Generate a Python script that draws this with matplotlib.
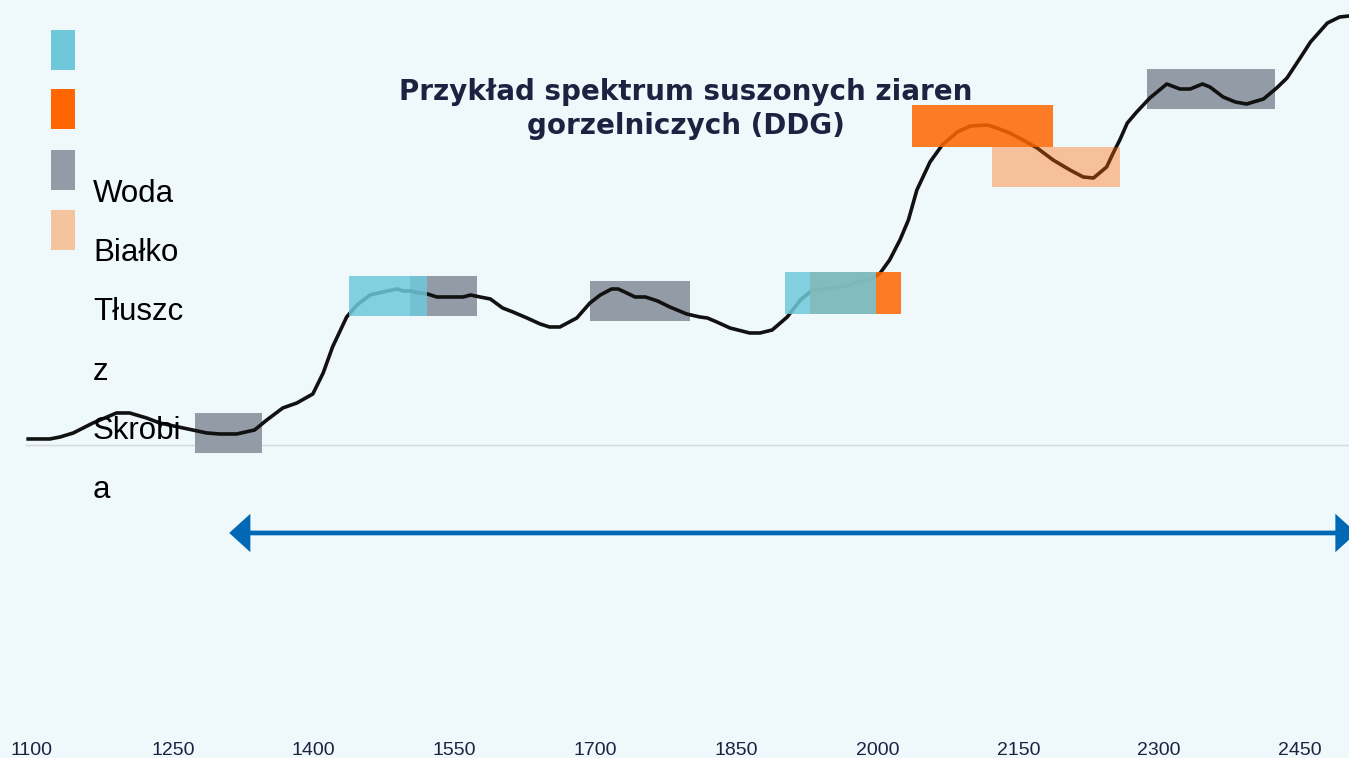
import numpy as np
import matplotlib.pyplot as plt
from matplotlib.patches import Rectangle, FancyArrowPatch

# Widmo DDG (liczba falowa [nm], absorbancja [j.u.])
liczba_falowa = [1096, 1119, 1130, 1144, 1165, 1190, 1204, 1222, 1236, 1261,
                 1286, 1300, 1318, 1337, 1350, 1367, 1382, 1399, 1410, 1420,
                 1435, 1446, 1460, 1478, 1489, 1495, 1502, 1513, 1521, 1531,
                 1559, 1567, 1577, 1588, 1601, 1612, 1627, 1641, 1651, 1662,
                 1680, 1694, 1705, 1717, 1724, 1731, 1742, 1753, 1766, 1779,
                 1797, 1811, 1819, 1829, 1843, 1864, 1875, 1888, 1904, 1918,
                 1931, 1946, 1957, 1968, 1978, 1992, 2003, 2013, 2024, 2033,
                 2042, 2056, 2069, 2085, 2099, 2117, 2127, 2141, 2155, 2170,
                 2187, 2205, 2219, 2230, 2244, 2251, 2258, 2266, 2276, 2290,
                 2308, 2322, 2333, 2346, 2354, 2368, 2381, 2393, 2411, 2425,
                 2436, 2450, 2461, 2479, 2492, 2502]
absorbancja = [0.06, 0.06, 0.08, 0.12, 0.22, 0.32, 0.32, 0.27, 0.22, 0.17,
               0.12, 0.11, 0.11, 0.15, 0.25, 0.37, 0.42, 0.51, 0.72, 0.98,
               1.28, 1.40, 1.50, 1.54, 1.56, 1.54, 1.54, 1.52, 1.51, 1.48,
               1.48, 1.50, 1.48, 1.46, 1.37, 1.33, 1.27, 1.21, 1.18, 1.18,
               1.27, 1.42, 1.50, 1.56, 1.56, 1.53, 1.48, 1.48, 1.44, 1.38,
               1.31, 1.28, 1.27, 1.23, 1.17, 1.12, 1.12, 1.15, 1.28, 1.45,
               1.55, 1.56, 1.58, 1.59, 1.63, 1.65, 1.72, 1.85, 2.05, 2.25,
               2.55, 2.83, 3.00, 3.13, 3.19, 3.20, 3.17, 3.12, 3.05, 2.97,
               2.85, 2.75, 2.68, 2.67, 2.78, 2.92, 3.05, 3.22, 3.33, 3.47,
               3.61, 3.56, 3.56, 3.61, 3.58, 3.48, 3.43, 3.41, 3.46, 3.57,
               3.67, 3.87, 4.03, 4.22, 4.28, 4.29]

# Pasma absorpcji skladnikow
pasmo_skladnik = ['Tłuszcz', 'Woda', 'Tłuszcz', 'Tłuszcz', 'Woda',
                  'Białko', 'Białko', 'Skrobia', 'Tłuszcz']
pasmo_od = [1274, 1438, 1502, 1694, 1902, 1928, 2037, 2122, 2287]
pasmo_do = [1345, 1521, 1574, 1801, 1999, 2025, 2187, 2258, 2423]
pasmo_dol = [-0.08, 1.29, 1.29, 1.24, 1.31, 1.31, 2.98, 2.58, 3.36]
pasmo_gora = [0.32, 1.69, 1.69, 1.64, 1.73, 1.73, 3.40, 2.98, 3.76]

legenda = ['Woda', 'Białko', 'Tłuszcz', 'Skrobia']
legenda_linie = ['Woda', 'Białko', 'Tłuszc', 'z', 'Skrobi', 'a']
ticki = [1100, 1250, 1400, 1550, 1700, 1850, 2000, 2150, 2300, 2450]
zakres = [1310, 2510]  # strzalka

# styl: kolor, alpha, zorder
styl = {'Woda': ('#6EC8DA', 0.85, 4),
        'Białko': ('#FF6600', 0.85, 3),
        'Tłuszcz': ('#939BA6', 1.0, 1),
        'Skrobia': ('#FF6600', 0.38, 3)}
kolor_legendy = ['#6EC8DA', '#FF6600', '#939BA6', '#F5C39D']

tlo = '#EFF8FB'
granat = '#1B2340'
W, H = 1349, 758


def px(x, y):
    # piksele obrazka -> wspolrzedne figury
    return x / W, 1 - y / H


fig = plt.figure(figsize=(W / 100, H / 100), dpi=100, facecolor=tlo)
ax = fig.add_axes([0, 0.03, 1, 0.97])
ax.set_facecolor(tlo)

ax.plot(liczba_falowa, absorbancja, color='#111111', lw=2.6, zorder=2,
        solid_joinstyle='round')
for s, a, b, d, g in zip(pasmo_skladnik, pasmo_od, pasmo_do, pasmo_dol, pasmo_gora):
    kol, alf, z = styl[s]
    ax.add_patch(Rectangle((a, d), b - a, g - d, facecolor=kol, alpha=alf,
                           edgecolor='none', zorder=z))

ax.axhline(0, xmin=26 / W, color='#D5D9DD', lw=1, zorder=0)

arrow = FancyArrowPatch((zakres[0], -0.88), (zakres[1], -0.88),
                        arrowstyle='<|-|>,head_length=11,head_width=10',
                        mutation_scale=1, color='#0068B4', lw=3.4,
                        shrinkA=0, shrinkB=0, zorder=5,
                        joinstyle='miter', capstyle='butt')
ax.add_patch(arrow)

ax.set_xlim(1066, 2502)
ax.set_ylim(-2.903, 4.45)
ax.set_xticks(ticki)
ax.set_xticklabels([str(t) for t in ticki])
ax.tick_params(axis='x', length=0, pad=5, labelsize=14, labelcolor=granat)
for lab in ax.get_xticklabels():
    lab.set_family(['Liberation Sans', 'DejaVu Sans'])
ax.set_yticks([])
for sp in ax.spines.values():
    sp.set_visible(False)

# legenda
for i, kol in enumerate(kolor_legendy):
    x0, y0 = px(51, [70, 129, 190, 250][i])
    fig.add_artist(Rectangle((x0, y0), 24 / W, 40 / H, facecolor=kol,
                             edgecolor='none', transform=fig.transFigure))
for i, t in enumerate(legenda_linie):
    x0, y0 = px(93, 202 + i * 59.2)
    fig.text(x0, y0, t, fontsize=22.5, family=['Liberation Sans', 'DejaVu Sans'],
             color='black', va='baseline', ha='left')

# tytul
for t, yb in [('Przykład spektrum suszonych ziaren', 100),
              ('gorzelniczych (DDG)', 134)]:
    x0, y0 = px(686, yb)
    fig.text(x0, y0, t, fontsize=20, fontweight='bold', color=granat,
             family=['DejaVu Sans'], ha='center', va='baseline')

plt.savefig('out.png', dpi=100, facecolor=tlo)
